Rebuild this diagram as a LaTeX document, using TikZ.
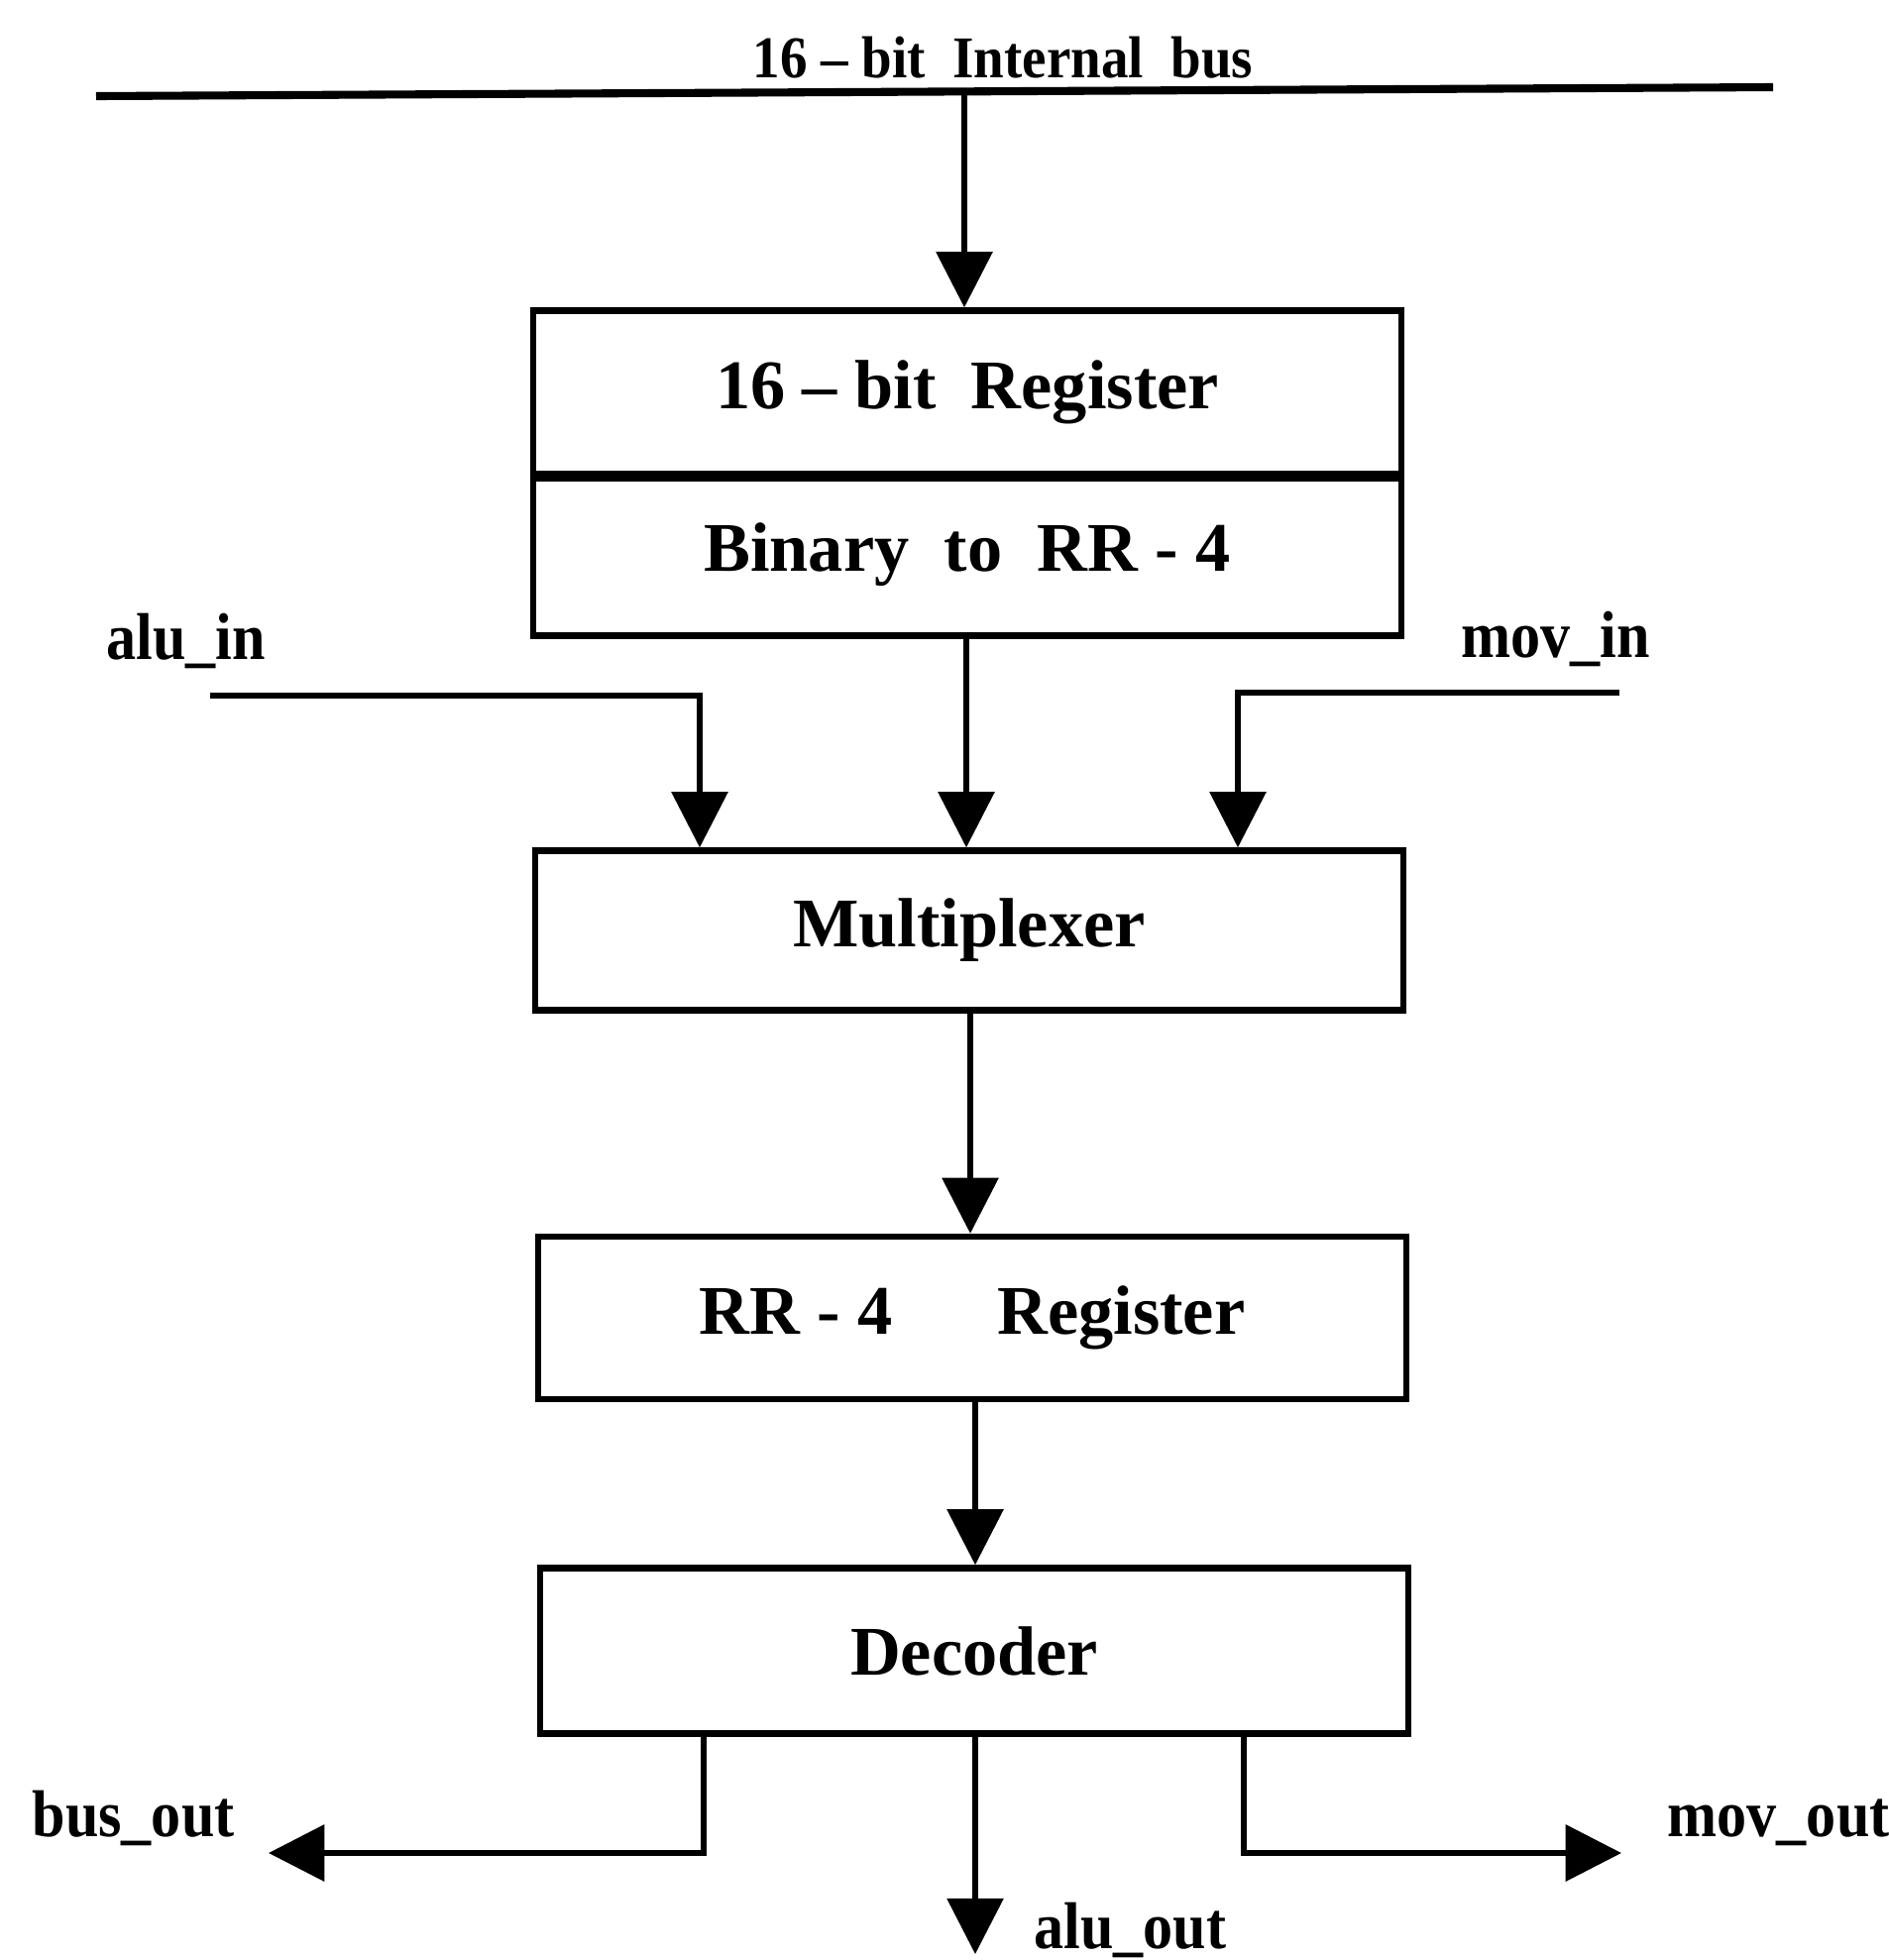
\documentclass[tikz,border=0pt]{standalone}
\usepackage{fontspec}
\setmainfont{Liberation Serif}
\usetikzlibrary{arrows.meta}
\begin{document}
\begin{tikzpicture}[x=0.01cm,y=-0.01cm,
  box/.style={draw,line width=1.8pt,minimum width=8.75cm,inner sep=0pt,font=\fontsize{20}{24}\selectfont\bfseries},
  wire/.style={line width=1.6pt},
  arr/.style={-{Triangle[length=16pt,width=16pt]}},
  lbl/.style={font=\fontsize{19}{22}\selectfont\bfseries,xscale=0.9,inner sep=0pt,anchor=base west}]
\useasboundingbox (0,0) rectangle (1905,1978);

% bus
\coordinate (busL) at (97,97);
\coordinate (busR) at (1789,88);
\coordinate (tap) at (973,92);
\draw[line width=2.3pt] (busL) -- (busR);
\node[font=\fontsize{17}{20}\selectfont\bfseries,xscale=0.92,anchor=base,inner sep=0pt] (buslbl) at (1012,78) {16 – bit\ \ Internal\ \ bus};

% boxes
\node[box,minimum height=1.65cm] (reg) at (976,396) {16 – bit\ \ Register};
\node[box,minimum height=1.63cm] (bin) at (976,560) {Binary\ \ to\ \ RR - 4};
\draw[line width=2.6pt] (reg.south west) -- (reg.south east);
\node[box,minimum height=1.61cm] (mux) at (978,939) {Multiplexer};
\node[box,minimum height=1.64cm] (rr) at (981,1330) {RR - 4\hspace{1.5em}Register};
\node[box,minimum height=1.67cm] (dec) at (983,1666) {Decoder};

% column coordinates
\coordinate (c1) at (975,0);
\coordinate (c2) at (979,0);
\coordinate (c3) at (984,0);
\coordinate (aluS) at (212,702);
\coordinate (aluK) at (706,702);
\coordinate (movS) at (1634,699);
\coordinate (movK) at (1249,699);
\coordinate (dl) at (710,0);
\coordinate (dc) at (984,0);
\coordinate (dr) at (1255,0);
\coordinate (dlK) at (710,1870);
\coordinate (drK) at (1255,1870);
\coordinate (busout) at (271,1870);
\coordinate (movout) at (1636,1870);
\coordinate (aluout) at (984,1972);

% connectors
\draw[wire,arr] (tap) -- (tap |- reg.north);
\draw[wire,arr] (bin.south -| c1) -- (mux.north -| c1);
\draw[wire,arr] (aluS) -- (aluK) -- (aluK |- mux.north);
\draw[wire,arr] (movS) -- (movK) -- (movK |- mux.north);
\draw[wire,arr] (mux.south -| c2) -- (rr.north -| c2);
\draw[wire,arr] (rr.south -| c3) -- (dec.north -| c3);
\draw[wire,arr] (dec.south -| dl) -- (dlK) -- (busout);
\draw[wire,arr] (dec.south -| dc) -- (aluout);
\draw[wire,arr] (dec.south -| dr) -- (drK) -- (movout);

% labels
\node[lbl] (aluin) at (107,665) {alu\_in};
\node[lbl] (movin) at (1474,663) {mov\_in};
\node[lbl] (busoutl) at (32,1853) {bus\_out};
\node[lbl] (movoutl) at (1682,1853) {mov\_out};
\node[lbl] (aluoutl) at (1043,1966) {alu\_out};
\end{tikzpicture}
\end{document}
